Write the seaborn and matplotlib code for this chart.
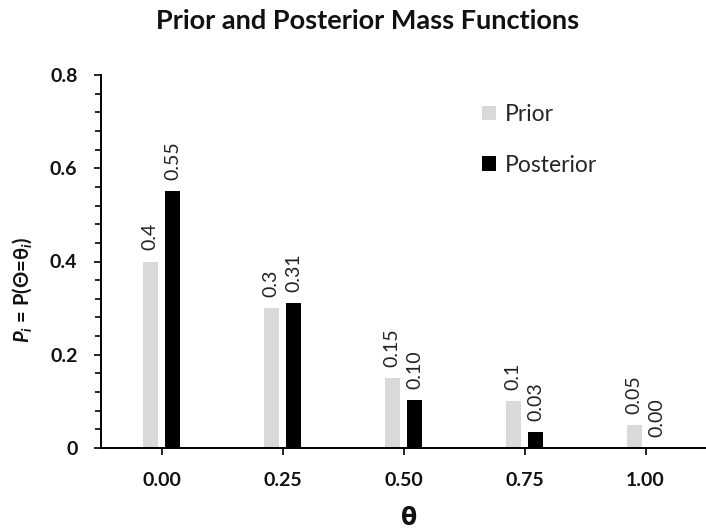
import matplotlib
matplotlib.use('Agg')
import matplotlib.pyplot as plt
import numpy as np
import pandas as pd
import seaborn as sns
from matplotlib.ticker import MultipleLocator, FuncFormatter

# ---- data ----
theta = ['0.00', '0.25', '0.50', '0.75', '1.00']
prior = [0.40, 0.30, 0.15, 0.10, 0.05]
posterior = [0.552, 0.310, 0.103, 0.034, 0.0]
series = ['Prior', 'Posterior']
colors = {'Prior': '#d9d9d9', 'Posterior': '#000000'}
title = 'Prior and Posterior Mass Functions'
xlabel = 'θ'
ylabel = r'$\mathbfit{P_i}$ = P(Θ=θ$_\mathbfit{i}$)'
yticks = [0, 0.2, 0.4, 0.6, 0.8]

df = pd.DataFrame({
    'theta': theta * 2,
    'series': ['Prior'] * len(theta) + ['Posterior'] * len(theta),
    'value': prior + posterior,
})

sns.set_theme(style='ticks')
plt.rcParams['font.family'] = ['Lato', 'DejaVu Sans']
plt.rcParams['mathtext.fontset'] = 'custom'
plt.rcParams['mathtext.rm'] = 'Lato:bold'
plt.rcParams['mathtext.it'] = 'Lato:italic:bold'
plt.rcParams['mathtext.bf'] = 'Lato:bold'
plt.rcParams['mathtext.bfit'] = 'Lato:italic:bold'

W, H = 706, 531
fig = plt.figure(figsize=(W / 100, H / 100), dpi=100)
ax = fig.add_axes([101 / W, 1 - 448 / H, (W - 101) / W, (448 - 75) / H])

sns.barplot(data=df, x='theta', y='value', hue='series', hue_order=series,
            palette=colors, width=0.37, gap=0.32, saturation=1, linewidth=0,
            ax=ax)

ax.set_xlim(-0.5, 4.5)
ax.set_ylim(0, 0.8)
ax.set_xlabel('')
ax.set_ylabel('')

# value labels
fmts = ['{:g}', '{:.2f}']
for cont, vals, f in zip(ax.containers, [prior, posterior], fmts):
    ax.bar_label(cont, labels=[f.format(round(v, 2)) for v in vals],
                 rotation=90, padding=8, fontsize=14, color='#222222')

# axes styling
for s in ['top', 'right']:
    ax.spines[s].set_visible(False)
for s in ['left', 'bottom']:
    ax.spines[s].set_color('black')
    ax.spines[s].set_linewidth(1.4)

ax.set_yticks(yticks)
ax.yaxis.set_minor_locator(MultipleLocator(0.04))
ax.yaxis.set_major_formatter(FuncFormatter(lambda v, p: '0' if abs(v) < 1e-9 else f'{v:.1f}'))
ax.tick_params(axis='y', which='major', length=5, width=1.2, color='black', pad=12,
               labelsize=14)
ax.tick_params(axis='y', which='minor', length=4, width=1.2, color='black')
ax.tick_params(axis='x', which='major', length=5, width=1.2, color='black', pad=12,
               labelsize=14)
for lab in ax.get_xticklabels() + ax.get_yticklabels():
    lab.set_fontweight('bold')
    lab.set_color('#111111')

# legend
handles, labels = ax.get_legend_handles_labels()
ax.legend(handles, labels, loc='upper left', bbox_to_anchor=(482 / W, 1 - 104 / H),
          bbox_transform=fig.transFigure, frameon=False, fontsize=16.5,
          handlelength=0.6, handleheight=0.6, handletextpad=0.4,
          labelspacing=1.3, borderpad=0, borderaxespad=0)

# titles
fig.text(368 / W, 1 - 21 / H, title, ha='center', va='center',
         fontsize=19.5, fontweight='bold', color='#111111')
fig.text(409 / W, 1 - 518 / H, xlabel, ha='center', va='center',
         fontsize=17, fontweight='bold', color='#111111', family='DejaVu Sans')
fig.text(22 / W, 1 - 290 / H, ylabel, ha='center', va='center', rotation=90,
         fontsize=14.5, fontweight='bold', color='#111111')

fig.savefig('out.png', dpi=100)
